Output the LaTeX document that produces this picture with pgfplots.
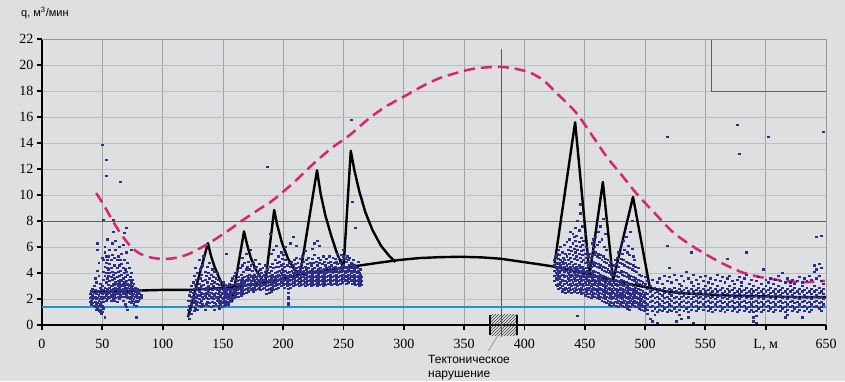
\documentclass[border=0pt]{standalone}
\usepackage{pgfplots}
\pgfplotsset{compat=1.18}
\usepackage{pgfplotstable}
\usepackage{fontspec}
\setmainfont{Liberation Serif}
\newfontfamily\sansru{Liberation Sans}
\usetikzlibrary{patterns}
\definecolor{bg}{RGB}{221,223,225}
\definecolor{gridv}{RGB}{160,162,165}
\definecolor{gridh}{RGB}{188,190,193}
\definecolor{dots}{RGB}{45,45,140}
\definecolor{pinkc}{RGB}{214,38,110}
\definecolor{cyanl}{RGB}{28,150,210}

\pgfplotstableread{
x a b c d e f g h i
40 2.4 2.1 1.8 nan nan nan nan nan nan
41 2.6 2.2 1.9 1.6 nan nan nan nan nan
42 2.3 2.0 1.7 2.8 nan nan nan nan nan
43 2.5 2.1 1.5 3.0 nan nan nan nan nan
44 2.2 1.8 1.4 2.7 3.6 nan nan nan nan
45 2.4 2.0 1.6 1.2 3.3 nan nan nan nan
46 2.6 2.1 1.7 1.3 5.8 6.3 4.2 nan nan
47 2.3 1.9 1.5 1.1 3.8 4.8 nan nan nan
48 2.5 2.0 1.6 1.2 3.2 2.9 1.0 nan nan
49 2.2 1.8 1.4 0.9 2.7 nan nan nan nan
50 2.4 2.0 1.5 1.0 3.0 5.2 13.85 nan nan
51 2.7 2.2 1.8 1.3 3.5 4.1 5.0 8.1 nan
52 2.5 2.1 2.9 3.8 4.5 5.6 6.0 0.6 nan
53 2.6 2.3 1.9 3.3 4.0 4.8 5.3 12.7 11.5
54 2.8 2.4 2.0 3.6 4.4 5.0 6.6 nan nan
55 2.6 2.2 3.1 3.8 4.3 5.3 nan nan nan
56 2.9 2.5 2.1 3.4 4.0 4.7 5.8 nan nan
57 2.7 2.3 1.9 3.0 3.7 4.4 5.0 nan nan
58 3.0 2.6 2.2 3.5 4.1 5.4 6.3 nan nan
59 2.8 2.4 2.0 3.2 3.9 8.1 7.2 nan nan
60 3.1 2.7 2.3 1.9 3.6 4.6 5.2 nan nan
61 2.9 2.5 2.1 3.3 4.0 5.8 6.5 nan nan
62 3.2 2.8 2.4 1.8 3.7 4.4 5.0 nan nan
63 3.0 2.6 2.2 3.4 4.1 5.3 nan nan nan
64 3.3 2.9 2.5 2.0 3.8 4.6 6.0 nan nan
65 3.1 2.7 2.3 3.5 4.2 5.0 11.0 nan nan
66 3.4 3.0 2.6 2.2 3.9 4.7 5.5 nan nan
67 3.2 2.8 2.4 1.9 3.6 4.4 6.2 nan nan
68 3.0 2.6 2.2 3.3 4.0 5.0 7.1 nan nan
69 3.3 2.9 2.5 1.6 3.7 4.3 nan nan nan
70 3.1 2.7 2.3 1.4 3.4 4.1 5.6 7.5 nan
71 2.9 2.5 2.1 1.2 3.2 3.9 4.8 nan nan
72 3.0 2.6 2.2 1.8 3.5 4.4 nan nan nan
73 2.8 2.4 2.0 3.1 3.7 nan nan nan nan
74 2.9 2.5 2.1 1.7 3.3 4.0 5.8 nan nan
75 2.7 2.3 1.9 3.0 3.5 nan nan nan nan
76 2.8 2.4 2.0 1.6 3.2 nan nan nan nan
77 2.6 2.2 1.8 2.9 nan nan nan nan nan
78 2.7 2.3 1.9 1.5 0.6 nan nan nan nan
79 2.5 2.1 1.8 2.8 nan nan nan nan nan
80 2.6 2.2 1.9 2.4 nan nan nan nan nan
81 2.4 2.0 2.7 nan nan nan nan nan nan
82 2.3 2.1 nan nan nan nan nan nan nan
121 1.9 1.2 0.8 nan nan nan nan nan nan
122 2.3 1.5 0.5 nan nan nan nan nan nan
123 2.6 1.9 1.2 nan nan nan nan nan nan
124 2.2 1.6 0.9 3.0 nan nan nan nan nan
125 2.5 2.0 1.4 3.3 nan nan nan nan nan
126 2.8 2.2 1.7 1.1 3.8 nan nan nan nan
127 2.4 1.9 1.3 3.1 4.4 nan nan nan nan
128 2.7 2.1 1.6 3.5 nan nan nan nan nan
129 2.3 1.8 1.2 2.9 4.0 nan nan nan nan
130 2.6 2.0 1.5 3.2 5.0 nan nan nan nan
131 2.9 2.3 1.7 3.6 4.3 nan nan nan nan
132 2.5 1.9 1.4 3.0 3.9 nan nan nan nan
133 2.8 2.2 1.6 3.4 4.6 nan nan nan nan
134 2.4 2.0 1.5 3.1 5.3 nan nan nan nan
135 2.7 2.3 1.15 3.5 4.1 nan nan nan nan
136 2.5 2.1 1.6 2.9 3.8 nan nan nan nan
137 2.8 2.4 1.8 3.3 4.5 nan nan nan nan
138 2.6 2.0 1.5 3.0 4.0 nan nan nan nan
139 2.9 2.3 1.7 3.6 4.8 nan nan nan nan
140 2.5 2.1 1.4 3.2 3.9 nan nan nan nan
141 2.7 2.2 1.8 3.4 4.3 nan nan nan nan
142 2.4 2.0 1.5 3.0 3.7 nan nan nan nan
143 2.8 2.3 1.7 3.3 4.1 1.2 nan nan nan
144 2.5 2.1 1.6 2.9 3.6 nan nan nan nan
145 2.7 2.2 1.9 3.2 4.0 nan nan nan nan
146 2.4 2.0 1.5 2.8 3.5 nan nan nan nan
147 2.6 2.2 1.7 3.1 1.3 nan nan nan nan
148 2.3 1.9 1.6 2.8 3.4 nan nan nan nan
149 2.5 2.1 1.8 3.0 1.4 nan nan nan nan
150 2.4 2.0 1.7 2.7 3.3 nan nan nan nan
151 2.6 2.2 1.9 2.9 1.5 nan nan nan nan
152 2.3 1.9 1.6 2.6 3.1 nan nan nan nan
153 2.5 2.1 1.8 2.8 5.5 nan nan nan nan
154 2.7 2.3 2.0 3.0 1.6 nan nan nan nan
155 2.4 2.1 1.8 2.8 3.2 nan nan nan nan
156 2.6 2.3 1.9 3.0 nan nan nan nan nan
157 2.5 2.2 2.0 2.8 3.4 nan nan nan nan
158 2.8 2.5 2.2 3.1 3.6 nan nan nan nan
159 2.6 2.4 2.1 2.9 3.8 nan nan nan nan
160 2.9 2.6 2.3 3.2 4.0 nan nan nan nan
161 2.7 2.5 2.2 3.1 3.5 nan nan nan nan
162 3.0 2.7 2.4 3.4 4.2 nan nan nan nan
163 2.8 2.5 2.2 3.2 3.7 nan nan nan nan
164 3.1 2.8 2.5 3.5 4.4 nan nan nan nan
165 2.9 2.6 2.3 3.3 3.9 nan nan nan nan
166 3.2 2.9 2.6 3.6 4.6 5.2 nan nan nan
167 3.0 2.7 2.4 3.4 4.1 nan nan nan nan
168 3.3 3.0 2.7 3.7 4.8 nan nan nan nan
169 3.1 2.8 2.5 3.5 4.3 5.5 nan nan nan
170 3.4 3.1 2.8 3.8 4.5 nan nan nan nan
171 3.2 2.9 2.6 3.6 4.9 nan nan nan nan
172 3.5 3.2 2.9 3.9 4.3 nan nan nan nan
173 3.3 3.0 2.7 3.7 4.6 5.8 nan nan nan
174 3.4 3.1 2.8 3.8 4.2 nan nan nan nan
175 3.2 2.9 2.6 3.6 4.8 nan nan nan nan
176 3.5 3.2 2.9 3.9 4.4 nan nan nan nan
177 3.3 3.0 2.7 3.7 5.0 nan nan nan nan
178 3.6 3.3 3.0 4.0 4.5 nan nan nan nan
179 3.4 3.1 2.8 3.8 4.2 nan nan nan nan
180 3.5 3.2 2.9 3.9 4.7 nan nan nan nan
181 3.3 3.0 2.7 3.7 4.3 nan nan nan nan
182 3.6 3.3 3.0 4.0 nan nan nan nan nan
183 3.4 3.1 2.8 3.8 4.4 nan nan nan nan
184 3.5 3.2 2.9 3.9 nan nan nan nan nan
185 3.7 3.4 3.1 4.1 4.6 nan nan nan nan
186 3.0 2.7 2.4 3.4 3.8 nan nan nan nan
187 3.3 3.0 2.7 3.7 4.3 12.15 nan nan nan
188 3.1 2.8 2.5 3.5 4.0 nan nan nan nan
189 3.4 3.1 2.8 3.8 4.5 7.0 nan nan nan
190 3.2 2.9 2.6 3.6 4.2 5.5 nan nan nan
191 3.5 3.2 2.9 3.9 4.7 nan nan nan nan
192 3.3 3.0 2.7 3.7 4.4 5.8 nan nan nan
193 3.6 3.3 3.0 4.0 5.0 nan nan nan nan
194 3.4 3.1 2.8 3.8 4.5 6.1 nan nan nan
195 3.7 3.4 3.1 4.1 4.8 nan nan nan nan
196 3.5 3.2 2.9 3.9 4.5 5.3 nan nan nan
197 3.8 3.5 3.2 4.2 4.9 nan nan nan nan
198 3.6 3.3 3.0 4.0 4.6 5.6 nan nan nan
199 3.9 3.6 3.3 4.3 5.1 nan nan nan nan
200 3.7 3.4 3.1 4.1 4.7 5.4 nan nan nan
201 3.5 3.2 2.9 3.9 4.5 nan nan nan nan
202 3.8 3.5 3.2 4.2 5.0 6.0 nan nan nan
203 3.6 3.3 3.0 4.0 4.6 nan nan nan nan
204 3.4 3.1 2.8 2.5 2.2 2.0 1.7 1.55 3.8
205 3.7 3.4 3.1 4.1 4.8 nan nan nan nan
206 3.5 3.2 2.9 3.9 4.5 6.3 nan nan nan
207 3.8 3.5 3.2 4.2 4.9 nan nan nan nan
208 3.6 3.3 3.0 4.0 4.6 6.8 nan nan nan
209 3.9 3.6 3.3 4.3 5.0 nan nan nan nan
210 3.7 3.4 3.1 4.1 4.7 nan nan nan nan
211 4.0 3.7 3.4 4.4 5.2 6.1 nan nan nan
212 3.8 3.5 3.2 4.2 4.8 nan nan nan nan
213 3.6 3.3 3.0 4.0 4.5 nan nan nan nan
214 3.9 3.6 3.3 4.3 5.1 nan nan nan nan
215 3.7 3.4 3.1 4.1 4.7 nan nan nan nan
216 4.0 3.7 3.4 4.4 5.3 nan nan nan nan
217 3.8 3.5 3.2 4.2 4.9 nan nan nan nan
218 3.6 3.3 3.0 4.0 4.5 5.7 nan nan nan
219 3.9 3.6 3.3 4.3 5.0 nan nan nan nan
220 3.7 3.4 3.1 4.1 4.7 nan nan nan nan
221 4.0 3.7 3.4 4.4 5.2 nan nan nan nan
222 3.8 3.5 3.2 4.2 4.8 nan nan nan nan
223 3.6 3.3 3.0 4.0 4.6 nan nan nan nan
224 3.9 3.6 3.3 4.3 5.1 5.9 nan nan nan
225 3.7 3.4 3.1 4.1 4.8 nan nan nan nan
226 4.0 3.7 3.4 4.4 5.4 6.3 nan nan nan
227 3.8 3.5 3.2 4.2 4.9 nan nan nan nan
228 3.6 3.3 3.0 4.0 4.6 6.5 nan nan nan
229 3.9 3.6 3.3 4.3 5.2 nan nan nan nan
230 3.7 3.4 3.1 4.1 4.8 6.1 nan nan nan
231 4.0 3.7 3.4 4.4 5.0 nan nan nan nan
232 3.8 3.5 3.2 4.2 4.7 nan nan nan nan
233 3.6 3.3 3.0 4.0 5.3 nan nan nan nan
234 3.9 3.6 3.3 4.3 4.9 nan nan nan nan
235 3.7 3.4 3.1 4.1 4.6 nan nan nan nan
236 4.0 3.7 3.4 4.4 5.1 nan nan nan nan
237 3.8 3.5 3.2 4.2 4.8 nan nan nan nan
238 4.1 3.8 3.5 4.5 5.3 nan nan nan nan
239 3.9 3.6 3.3 4.3 4.9 nan nan nan nan
240 3.7 3.4 3.1 4.1 4.6 nan nan nan nan
241 4.0 3.7 3.4 4.4 5.2 nan nan nan nan
242 3.8 3.5 3.2 4.2 4.8 nan nan nan nan
243 4.1 3.8 3.5 4.5 5.1 nan nan nan nan
244 3.9 3.6 3.3 4.3 4.9 nan nan nan nan
245 3.7 3.4 3.1 4.1 4.7 5.5 nan nan nan
246 4.0 3.7 3.4 4.4 5.2 nan nan nan nan
247 3.8 3.5 3.2 4.2 4.8 nan nan nan nan
248 4.1 3.8 3.5 4.5 5.4 nan nan nan nan
249 3.9 3.6 3.3 4.3 5.0 nan nan nan nan
250 4.2 3.9 3.6 4.6 5.3 5.8 nan nan nan
251 4.0 3.7 3.4 4.4 5.1 nan nan nan nan
252 3.8 3.5 3.2 4.2 4.9 nan nan nan nan
253 4.1 3.8 3.5 4.5 5.3 nan nan nan nan
254 3.9 3.6 3.3 4.3 5.0 nan nan nan nan
255 4.2 3.9 3.6 4.6 5.2 nan nan nan nan
256 4.0 3.7 3.4 4.4 4.8 15.8 nan nan nan
257 3.8 3.5 3.2 4.2 4.7 9.5 nan nan nan
258 4.1 3.8 3.5 4.5 5.0 nan nan nan nan
259 3.9 3.6 3.3 4.3 4.6 nan nan nan nan
260 3.7 3.4 3.1 4.1 4.5 7.5 nan nan nan
261 4.0 3.7 3.4 4.4 nan nan nan nan nan
262 3.8 3.5 3.2 4.2 4.9 nan nan nan nan
263 3.6 3.3 3.0 4.0 nan nan nan nan nan
264 3.9 3.6 3.3 4.3 nan nan nan nan nan
265 3.7 3.4 3.1 nan nan nan nan nan nan
425 4.6 4.2 3.8 3.4 5.0 nan nan nan nan
426 4.4 4.0 3.6 3.1 5.3 4.8 nan nan nan
427 4.7 4.3 3.9 3.5 3.0 5.5 nan nan nan
428 4.5 4.1 3.7 3.2 2.8 5.1 5.8 nan nan
429 4.8 4.4 4.0 3.6 3.1 5.4 nan nan nan
430 4.6 4.2 3.8 3.3 2.9 5.0 6.0 nan nan
431 4.3 3.9 3.5 3.0 2.6 4.9 5.6 nan nan
432 4.7 4.3 3.9 3.4 2.8 5.2 nan nan nan
433 4.5 4.1 3.7 3.2 2.7 5.0 6.2 nan nan
434 4.2 3.8 3.4 2.9 2.5 4.8 5.5 nan nan
435 4.6 4.2 3.8 3.3 2.8 5.3 6.4 nan nan
436 4.4 4.0 3.6 3.1 2.6 5.0 5.8 nan nan
437 4.7 4.3 3.9 3.4 2.9 5.5 6.6 nan nan
438 4.5 4.1 3.7 3.2 2.7 5.2 6.0 7.2 nan
439 4.3 3.9 3.5 3.0 2.5 4.9 5.7 nan nan
440 4.6 4.2 3.8 3.3 2.8 5.4 6.3 7.0 nan
441 4.4 4.0 3.6 3.1 2.6 5.1 5.9 6.8 nan
442 4.7 4.3 3.9 3.4 2.9 5.6 6.5 7.5 nan
443 4.5 4.1 3.7 3.2 2.7 5.3 6.1 6.9 nan
444 4.3 3.9 3.5 3.0 2.5 0.7 5.0 5.8 8.0
445 4.6 4.2 3.8 3.3 2.8 5.5 6.4 7.3 nan
446 4.4 4.0 3.6 3.1 2.6 5.2 6.0 8.6 9.3
447 4.2 3.8 3.4 2.9 2.4 4.9 5.7 6.7 nan
448 4.5 4.1 3.7 3.2 2.7 5.4 6.2 7.6 nan
449 4.3 3.9 3.5 3.0 2.5 5.0 5.8 6.5 nan
450 4.1 3.7 3.3 2.8 2.3 4.8 5.5 7.0 nan
451 4.4 4.0 3.6 3.1 2.6 5.2 6.0 nan nan
452 4.2 3.8 3.4 2.9 2.4 4.9 5.6 nan nan
453 3.9 3.5 3.1 2.7 2.2 4.6 5.3 nan nan
454 4.1 3.7 3.3 2.9 2.4 4.8 5.5 nan nan
455 3.8 3.4 3.0 2.6 2.1 4.5 5.2 nan nan
456 4.0 3.6 3.2 2.8 2.3 4.7 5.4 6.3 nan
457 4.2 3.8 3.4 2.9 2.5 4.9 5.7 6.6 nan
458 3.9 3.5 3.1 2.7 2.2 4.6 5.4 6.0 nan
459 4.1 3.7 3.3 2.8 2.4 4.8 5.6 6.8 nan
460 3.8 3.4 3.0 2.6 2.1 4.5 5.3 6.2 nan
461 4.0 3.6 3.2 2.8 2.3 4.7 5.5 7.2 nan
462 3.7 3.3 2.9 2.5 2.0 4.4 5.2 6.4 nan
463 3.9 3.5 3.1 2.7 2.2 4.6 5.4 7.6 nan
464 3.6 3.2 2.8 2.4 1.9 4.3 5.0 6.6 nan
465 3.8 3.4 3.0 2.6 2.1 4.5 5.3 8.2 nan
466 3.5 3.1 2.7 2.3 1.8 4.2 4.9 6.0 nan
467 3.7 3.3 2.9 2.5 2.0 4.4 5.1 7.0 nan
468 3.4 3.0 2.6 2.2 1.7 4.1 4.8 5.8 nan
469 3.6 3.2 2.8 2.4 1.9 4.3 5.0 nan nan
470 3.3 2.9 2.5 2.1 1.6 4.0 4.6 nan nan
471 3.5 3.1 2.7 2.3 1.8 4.2 4.9 nan nan
472 3.2 2.8 2.4 2.0 1.5 3.9 4.5 nan nan
473 3.4 3.0 2.6 2.2 1.7 4.1 nan nan nan
474 3.3 2.9 2.5 2.1 1.6 3.9 4.6 nan nan
475 3.5 3.1 2.7 2.3 1.8 4.2 5.0 nan nan
476 3.2 2.8 2.4 2.0 1.5 3.8 4.7 nan nan
477 3.4 3.0 2.6 2.2 1.7 4.1 5.2 nan nan
478 3.1 2.7 2.3 1.9 1.4 3.7 4.5 5.6 nan
479 3.3 2.9 2.5 2.1 1.6 4.0 4.8 5.9 nan
480 3.5 3.1 2.7 2.3 1.8 4.2 5.1 6.2 nan
481 3.2 2.8 2.4 2.0 1.5 3.9 4.7 5.5 nan
482 3.4 3.0 2.6 2.2 1.7 4.1 5.0 6.5 nan
483 3.1 2.7 2.3 1.9 1.4 3.8 4.6 5.8 nan
484 3.3 2.9 2.5 2.1 1.6 4.0 4.9 6.8 nan
485 3.0 2.6 2.2 1.8 1.3 3.7 4.5 5.6 nan
486 3.2 2.8 2.4 2.0 1.5 3.9 4.8 6.1 nan
487 2.9 2.5 2.1 1.7 1.2 3.6 4.4 5.4 nan
488 3.1 2.7 2.3 1.9 1.4 3.8 4.7 7.2 nan
489 2.8 2.4 2.0 1.6 3.5 4.3 5.9 8.0 nan
490 3.0 2.6 2.2 1.8 3.7 4.6 5.3 nan nan
491 2.7 2.3 1.9 1.5 3.4 4.2 5.0 nan nan
492 2.9 2.5 2.1 1.7 3.6 4.5 nan nan nan
493 2.6 2.2 1.8 1.4 3.3 4.1 nan nan nan
494 2.8 2.4 2.0 1.6 3.5 4.4 nan nan nan
495 2.5 2.1 1.7 1.3 3.2 3.9 nan nan nan
496 2.7 2.3 1.9 1.5 3.4 nan nan nan nan
497 2.4 2.0 1.6 1.2 3.1 3.8 nan nan nan
498 2.6 2.2 1.8 1.4 3.3 nan nan nan nan
499 2.3 1.9 1.5 1.1 3.0 nan nan nan nan
500 2.5 2.1 1.7 1.3 3.2 3.7 nan nan nan
502 2.4 2.0 1.6 1.2 2.8 3.4 0.9 nan nan
504 2.6 2.2 1.8 1.4 3.0 0.5 nan nan nan
506 2.3 1.9 1.5 1.1 2.7 3.5 0.3 nan nan
508 2.5 2.1 1.7 1.3 2.9 0.8 nan nan nan
510 2.2 1.8 1.4 1.0 2.6 3.3 0.2 nan nan
512 2.4 2.0 1.6 1.2 2.8 3.6 nan nan nan
514 2.3 1.9 1.5 1.1 2.7 3.2 nan nan nan
516 2.5 2.1 1.7 1.3 2.9 3.8 nan nan nan
518 2.2 1.8 1.4 1.0 2.6 3.4 6.1 14.5 nan
520 2.4 2.0 1.6 1.2 2.8 3.7 4.4 nan nan
522 2.3 1.9 1.5 1.1 2.7 3.3 nan nan nan
524 2.5 2.1 1.7 1.3 2.9 3.9 nan nan nan
526 2.2 1.8 1.4 1.0 2.6 3.5 0.3 nan nan
528 2.4 2.0 1.6 1.2 2.8 3.2 0.8 nan nan
530 2.6 2.2 1.8 1.4 3.0 3.8 0.5 nan nan
532 2.3 1.9 1.5 1.1 2.7 3.4 nan nan nan
534 2.5 2.1 1.7 1.3 2.9 4.1 nan nan nan
536 2.2 1.8 1.4 1.0 2.6 3.6 0.6 nan nan
538 2.4 2.0 1.6 1.2 2.8 3.3 5.6 nan nan
540 2.6 2.2 1.8 1.4 3.0 3.9 0.2 nan nan
542 2.3 1.9 1.5 1.1 2.7 3.5 nan nan nan
544 2.5 2.1 1.7 1.3 2.9 3.2 nan nan nan
546 2.2 1.8 1.4 2.6 3.7 nan nan nan nan
548 2.4 2.0 1.6 1.2 2.8 3.4 nan nan nan
550 2.6 2.2 1.8 1.4 3.0 3.8 nan nan nan
552 2.3 1.9 1.5 1.1 2.7 3.3 nan nan nan
554 2.5 2.1 1.7 1.3 2.9 3.6 nan nan nan
556 2.2 1.8 1.4 1.0 2.6 3.2 nan nan nan
558 2.4 2.0 1.6 1.2 2.8 3.5 nan nan nan
560 2.6 2.2 1.8 1.4 3.0 3.9 nan nan nan
562 2.3 1.9 1.5 1.1 2.7 3.4 nan nan nan
564 2.5 2.1 1.7 1.3 2.9 3.7 nan nan nan
566 2.2 1.8 1.4 1.0 2.6 3.3 nan nan nan
568 2.4 2.0 1.6 1.2 2.8 3.6 5.1 nan nan
570 2.6 2.2 1.8 1.4 3.0 3.8 nan nan nan
572 2.3 1.9 1.5 1.1 2.7 3.4 nan nan nan
574 2.5 2.1 1.7 1.3 2.9 3.2 nan nan nan
576 2.2 1.8 1.4 1.0 2.6 3.5 15.4 nan nan
578 2.4 2.0 1.6 1.2 2.8 3.7 13.15 nan nan
580 2.6 2.2 1.8 1.4 3.0 3.3 nan nan nan
582 2.3 1.9 1.5 1.1 2.7 3.6 nan nan nan
584 2.5 2.1 1.7 1.3 2.9 3.9 5.6 nan nan
586 2.2 1.8 1.4 1.0 2.6 3.2 nan nan nan
588 2.4 2.0 1.6 1.2 2.8 3.5 nan nan nan
590 2.6 2.2 1.8 1.4 1.0 0.6 0.3 3.0 nan
592 2.3 1.9 1.5 1.1 0.7 0.2 2.7 3.4 nan
594 2.5 2.1 1.7 1.3 2.9 3.7 nan nan nan
596 2.2 1.8 1.4 1.0 2.6 3.2 nan nan nan
598 2.4 2.0 1.6 1.2 2.8 4.3 nan nan nan
600 2.6 2.2 1.8 1.4 3.0 3.5 nan nan nan
602 2.3 1.9 1.5 1.1 2.7 3.3 14.5 nan nan
604 2.5 2.1 1.7 1.3 2.9 3.6 nan nan nan
606 2.2 1.8 1.4 1.0 2.6 3.2 nan nan nan
608 2.4 2.0 1.6 1.2 2.8 3.5 nan nan nan
610 2.6 2.2 1.8 1.4 3.0 3.8 nan nan nan
612 2.3 1.9 1.5 1.1 2.7 3.4 nan nan nan
614 2.5 2.1 1.7 1.3 2.9 4.0 nan nan nan
616 2.2 1.8 1.4 1.0 0.6 2.6 3.3 nan nan
618 2.4 2.0 1.6 1.2 0.8 2.8 3.6 nan nan
620 2.6 2.2 1.8 1.4 3.0 3.3 nan nan nan
622 2.3 1.9 1.5 1.1 2.7 3.5 nan nan nan
624 2.5 2.1 1.7 1.3 2.9 3.2 nan nan nan
626 2.2 1.8 1.4 1.0 2.6 3.4 nan nan nan
628 2.4 2.0 1.6 1.2 2.8 3.7 nan nan nan
630 2.6 2.2 1.8 1.4 0.6 3.0 3.3 nan nan
632 2.3 1.9 1.5 1.1 2.7 3.6 nan nan nan
634 2.5 2.1 1.7 1.3 2.9 3.4 nan nan nan
636 2.2 1.8 1.4 1.0 2.6 3.8 nan nan nan
638 2.4 2.0 1.6 1.2 2.8 3.5 nan nan nan
640 2.6 2.2 1.8 1.4 3.0 4.1 4.6 nan nan
642 2.3 1.9 1.5 1.4 2.7 3.6 4.3 6.8 nan
644 2.5 2.1 1.7 1.3 2.9 3.8 4.7 nan nan
646 2.2 1.8 1.4 1.1 2.6 3.4 6.9 4.4 nan
648 2.4 2.0 1.6 2.8 3.2 14.85 nan nan nan
}\scat

\begin{document}
\begin{tikzpicture}
\useasboundingbox (-42pt,-56pt) rectangle (803pt,325pt);
\fill[bg] (-42pt,-56pt) rectangle (803pt,325pt);
\begin{axis}[
  at={(0pt,0pt)}, anchor=south west,
  scale only axis, width=784pt, height=286pt,
  xmin=0, xmax=650, ymin=0, ymax=22,
  axis x line*=bottom, axis y line*=left,
  axis line style={line width=2.8pt, black},
  xtick={0,50,...,650},
  xticklabels={0,50,100,150,200,250,300,350,400,450,500,550,{L, м},650},
  ytick={0,2,...,22},
  tick align=outside, major tick length=5pt,
  tick style={line width=1.8pt, black},
  grid=major,
  x grid style={line width=0.7pt, gridv},
  y grid style={line width=0.7pt, gridh},
  ticklabel style={font=\fontsize{14}{14}\selectfont},
  xticklabel style={yshift=-6pt},
  /pgf/number format/assume math mode=true,
  clip=false,
]
\draw[gray!75!black, line width=0.8pt] (axis cs:0,8) -- (axis cs:650,8);
\draw[gray!75!black, line width=0.8pt] (axis cs:555,22) -- (axis cs:555,18) -- (axis cs:650,18);
\draw[gray!80, line width=1pt] (axis cs:0,22) -- (axis cs:650,22) -- (axis cs:650,0);
\draw[gray!70!black, line width=1pt] (axis cs:381,-0.9) -- (axis cs:381,21.2);

\pgfplotsinvokeforeach{a,b,c,d,e,f,g,h,i}{
  \addplot[only marks, mark=square*, mark size=0.6pt, color=dots, mark options={xscale=1.6, draw=none, fill=dots}] table[x=x, y=#1] {\scat};
}

\addplot[cyanl, line width=2.5pt] coordinates {(0,1.4) (650,1.4)};

\addplot[black, line width=2.4pt] coordinates {
(40,2.55)(60,2.6)(80,2.65)(100,2.7)(123,2.7)(140,2.8)(158,2.9)(185,3.25)(200,3.55)
(214,3.9)(230,4.15)(250,4.4)(265,4.6)(280,4.8)(296,5.0)(313,5.15)(330,5.22)(347,5.25)
(365,5.2)(380,5.1)(395,4.9)(410,4.7)(424,4.5)(440,4.15)(454,3.85)(473.5,3.45)(490,3.1)
(504,2.85)(519,2.55)(535,2.42)(550,2.35)(575,2.25)(600,2.2)(625,2.15)(650,2.15)};

\addplot[black, line width=2.4pt, line join=round] coordinates {
(121,0.6)(137.6,6.3)(140,5.35)(143,4.5)(147,3.6)(152,2.65)(157.5,1.8)
(167.5,7.2)(170,6.2)(173,5.2)(177,4.3)(181,3.7)(185,3.2)
(192.5,8.85)(195,7.7)(199,6.3)(204,5.1)(209,4.3)(214,3.9)
(228,11.9)(231,10.1)(235,8.4)(240,6.8)(245,5.4)(250,4.4)
(256,13.4)(259,11.9)(263,10.3)(268,8.7)(274,7.3)(281,6.1)(288,5.3)(293,4.85)};

\addplot[black, line width=2.4pt, line join=round] coordinates {
(425,4.75)(442,15.6)(454,3.85)(465,11.0)(473.5,3.45)(490,9.85)(504,2.85)};

\addplot[pinkc, line width=2.5pt, dash pattern=on 11pt off 6pt, smooth] coordinates {
(45,10.15)(52,9.1)(60,7.8)(67,6.8)(74,6.0)(81,5.5)(90,5.2)(100,5.08)(110,5.15)(120,5.4)
(131,5.9)(142,6.5)(155,7.3)(167,8.1)(180,8.9)(191.5,9.6)(208,10.9)(225,12.4)(240,13.6)
(255,14.6)(270,15.8)(285,16.8)(302.6,17.7)(316,18.4)(330,19.0)(352,19.6)(366,19.8)
(381,19.85)(393,19.7)(405,19.4)(416,18.8)(427,17.8)(435,17.1)(444,16.2)(456,14.6)
(468.5,12.9)(480,11.6)(493,10.1)(508,8.6)(523,7.15)(537,6.2)(551,5.4)(565,4.7)
(579,4.1)(590,3.8)(601,3.6)(620,3.35)(635,3.3)(649,3.4)};

\fill[pattern=north east lines, pattern color=black!75] (axis cs:371.5,-0.8) rectangle (axis cs:393.6,0.8);
\draw[black, line width=2.2pt] (axis cs:371.5,-0.8) -- (axis cs:371.5,0.8) (axis cs:393.6,-0.8) -- (axis cs:393.6,0.8);
\draw[gray, line width=0.5pt] (axis cs:378,-0.8) -- (axis cs:370,-2.0);

\node[anchor=north west, align=left, inner sep=0pt, font=\sansru\fontsize{12}{14.5}\selectfont] at (axis cs:320,-2.3) {Тектоническое\\нарушение};
\node[anchor=west, inner sep=0pt, xshift=-21pt, yshift=26pt, font=\sansru\fontsize{11}{13}\selectfont] at (rel axis cs:0,1) {q, м\textsuperscript{3}/мин};
\end{axis}
\end{tikzpicture}
\end{document}
